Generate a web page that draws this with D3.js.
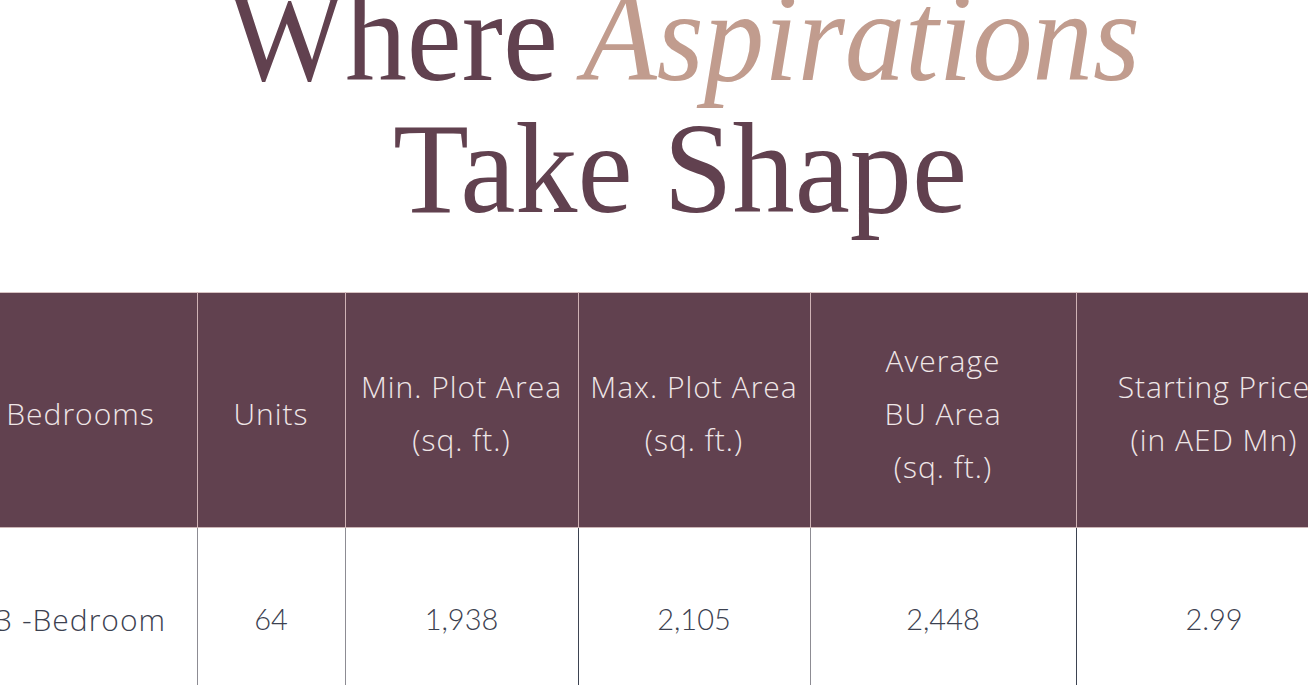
<!DOCTYPE html>
<html>
<head>
<meta charset="utf-8">
<script src="https://cdn.jsdelivr.net/npm/d3@7"></script>
<style>
  html, body { margin: 0; padding: 0; background: #fff; }
  svg { display: block; }
  .title { font-family: "Liberation Serif", "DejaVu Serif", serif; }
  .head { font-family: "Open Sans", Lato, sans-serif; font-weight: 300; fill: #efe6e7; letter-spacing: 1px; }
  .cell { font-family: Lato, "Open Sans", sans-serif; font-weight: 300; fill: #3c4150; }
  .cell.word { font-family: "Open Sans", Lato, sans-serif; letter-spacing: 1px; }
</style>
</head>
<body>
<svg width="1308" height="685"></svg>
<script>
// table content
var headers = [
    ["Bedrooms"],
    ["Units"],
    ["Min. Plot Area", "(sq. ft.)"],
    ["Max. Plot Area", "(sq. ft.)"],
    ["Average", "BU Area", "(sq. ft.)"],
    ["Starting Price", "(in AED Mn)"]
];
var bedroomTypes = ["3 -Bedroom"];
var units = [64];
var minPlotArea = [1938];
var maxPlotArea = [2105];
var avgBUArea = [2448];
var startingPrice = [2.99];

var svg = d3.select("svg"),
    plum = "#61414f",
    rose = "#c19c8e";

// column edges (layout only)
var colEdges = [-36, 197, 345, 578, 810, 1076, 1352];
var colIndex = d3.range(headers.length);
var x0 = d3.scaleOrdinal().domain(colIndex).range(colEdges.slice(0, -1));
var x1 = d3.scaleOrdinal().domain(colIndex).range(colEdges.slice(1));
function mid(i) { return (x0(i) + x1(i)) / 2; }

var headTop = 292, headBottom = 527, rowBottom = 720;

// title
var t1 = svg.append("text").attr("class", "title").attr("y", 80).style("font-size", "129px");
t1.append("tspan").attr("x", 228).attr("fill", plum)
    .attr("textLength", 330).attr("lengthAdjust", "spacingAndGlyphs").text("Where");
t1.append("tspan").attr("x", 583).attr("fill", rose).style("font-style", "italic")
    .attr("textLength", 557).attr("lengthAdjust", "spacingAndGlyphs").text("Aspirations");
svg.append("text").attr("class", "title").attr("x", 393).attr("y", 212)
    .style("font-size", "129px").attr("fill", plum)
    .attr("textLength", 574).attr("lengthAdjust", "spacingAndGlyphs").text("Take Shape");

// header band
svg.append("rect")
    .attr("x", colEdges[0]).attr("y", headTop)
    .attr("width", colEdges[colEdges.length - 1] - colEdges[0])
    .attr("height", headBottom - headTop)
    .attr("fill", plum);
svg.append("line").attr("x1", -40).attr("x2", 1400).attr("y1", headTop + 0.5).attr("y2", headTop + 0.5)
    .attr("stroke", "#d8c3c3");
svg.append("line").attr("x1", -40).attr("x2", 1400).attr("y1", headBottom + 0.5).attr("y2", headBottom + 0.5)
    .attr("stroke", "#cdb6b7");

// column dividers
var dividers = colIndex.slice(1);
svg.selectAll(".hdiv").data(dividers).enter().append("line")
    .attr("class", "hdiv")
    .attr("x1", function(i) { return x0(i) + 0.5; })
    .attr("x2", function(i) { return x0(i) + 0.5; })
    .attr("y1", headTop).attr("y2", headBottom)
    .attr("stroke", "#cfb2b5");
svg.selectAll(".bdiv").data(dividers).enter().append("line")
    .attr("class", "bdiv")
    .attr("x1", function(i) { return x0(i) + 0.5; })
    .attr("x2", function(i) { return x0(i) + 0.5; })
    .attr("y1", headBottom + 1).attr("y2", rowBottom)
    .attr("stroke", function(i) { return (i === 3 || i === 5) ? "#3d4351" : "#8d8c93"; });

// header labels
var lineGap = 53, headMid = 414;
var hg = svg.selectAll(".hcol").data(headers).enter().append("g").attr("class", "hcol");
hg.each(function(lines, i) {
    var g = d3.select(this);
    var start = headMid - (lines.length - 1) * lineGap / 2;
    g.selectAll("text").data(lines).enter().append("text")
        .attr("class", "head")
        .attr("x", mid(i))
        .attr("y", function(d, j) { return start + j * lineGap; })
        .attr("dy", "0.35em")
        .attr("text-anchor", "middle")
        .style("font-size", "30px")
        .text(function(d) { return d; });
});

// body row
var rows = bedroomTypes.map(function(b, r) {
    return [b, units[r], d3.format(",")(minPlotArea[r]), d3.format(",")(maxPlotArea[r]),
            d3.format(",")(avgBUArea[r]), d3.format(".2f")(startingPrice[r])];
});
svg.selectAll(".row").data(rows).enter().append("g").attr("class", "row")
    .selectAll("text").data(function(d) { return d; }).enter().append("text")
    .attr("class", function(d, i) { return i === 0 ? "cell word" : "cell"; })
    .attr("x", function(d, i) { return mid(i); })
    .attr("y", 620)
    .attr("dy", "0.35em")
    .attr("text-anchor", "middle")
    .style("font-size", function(d, i) { return i === 0 ? "30px" : "29px"; })
    .text(function(d) { return d; });
</script>
</body>
</html>
